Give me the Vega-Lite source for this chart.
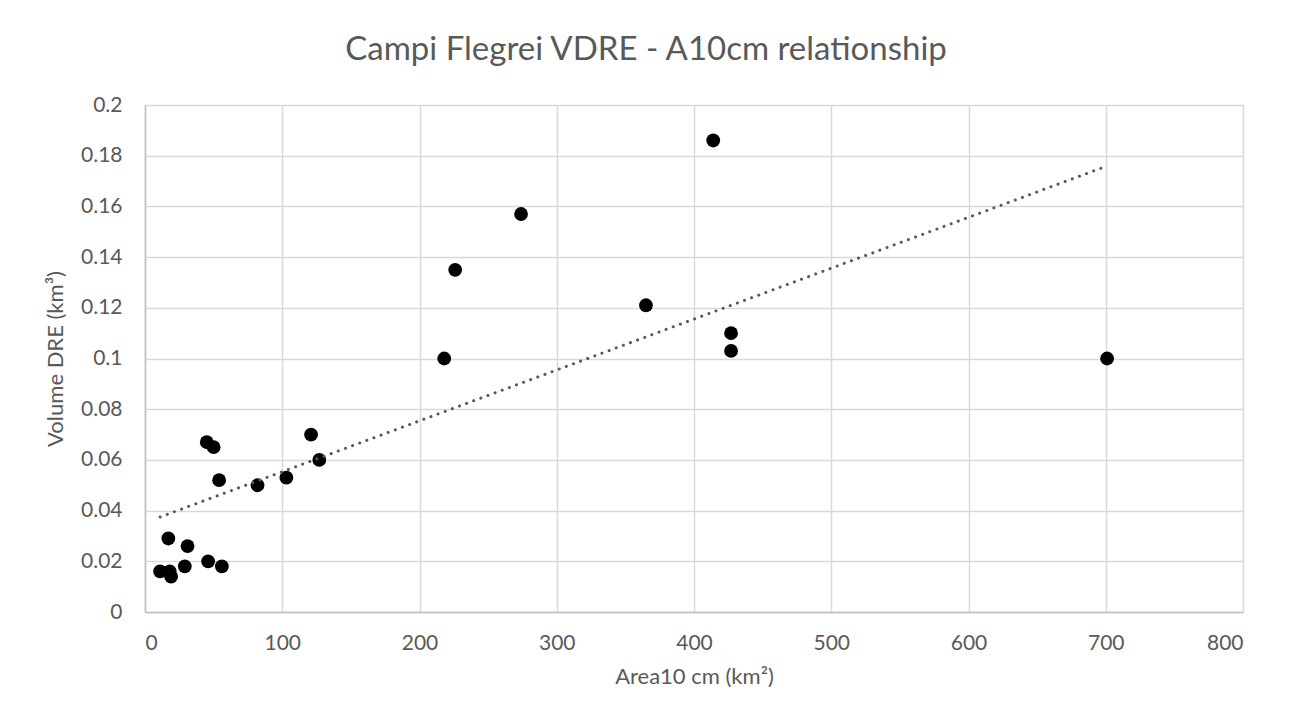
{
  "$schema": "https://vega.github.io/schema/vega-lite/v6.json",
  "width": 1098,
  "height": 507,
  "autosize": {"type": "none"},
  "padding": {"left": 145, "top": 105, "right": 49, "bottom": 114},
  "background": "white",
  "title": {
    "text": "Campi Flegrei VDRE - A10cm relationship",
    "font": "Lato",
    "fontSize": 33,
    "fontWeight": "normal",
    "color": "#595959",
    "anchor": "middle",
    "dx": -48,
    "offset": 27
  },
  "data": {
    "values": [
      {"area": 11, "volume": 0.016},
      {"area": 17, "volume": 0.029},
      {"area": 18, "volume": 0.016},
      {"area": 19, "volume": 0.014},
      {"area": 29, "volume": 0.018},
      {"area": 31, "volume": 0.026},
      {"area": 45, "volume": 0.067},
      {"area": 46, "volume": 0.020},
      {"area": 50, "volume": 0.065},
      {"area": 54, "volume": 0.052},
      {"area": 56, "volume": 0.018},
      {"area": 82, "volume": 0.050},
      {"area": 103, "volume": 0.053},
      {"area": 121, "volume": 0.070},
      {"area": 127, "volume": 0.060},
      {"area": 218, "volume": 0.100},
      {"area": 226, "volume": 0.135},
      {"area": 274, "volume": 0.157},
      {"area": 365, "volume": 0.121},
      {"area": 414, "volume": 0.186},
      {"area": 427, "volume": 0.110},
      {"area": 427, "volume": 0.103},
      {"area": 701, "volume": 0.100}
    ]
  },
  "encoding": {
    "x": {
      "field": "area",
      "type": "quantitative",
      "scale": {"domain": [0, 800], "nice": false, "zero": true},
      "axis": {
        "title": "Area10 cm (km²)",
        "values": [0, 100, 200, 300, 400, 500, 600, 700, 800],
        "labelPadding": 20,
        "titlePadding": 13
      }
    },
    "y": {
      "field": "volume",
      "type": "quantitative",
      "scale": {"domain": [0, 0.2], "nice": false},
      "axis": {
        "title": "Volume DRE (km³)",
        "values": [0, 0.02, 0.04, 0.06, 0.08, 0.1, 0.12, 0.14, 0.16, 0.18, 0.2],
        "format": ".2~f",
        "labelPadding": 23,
        "titlePadding": 13
      }
    }
  },
  "layer": [
    {
      "mark": {"type": "point", "filled": true, "color": "#000000", "size": 190, "opacity": 1}
    },
    {
      "transform": [{"regression": "volume", "on": "area"}],
      "mark": {
        "type": "line",
        "color": "#595959",
        "strokeWidth": 3,
        "strokeDash": [0.1, 7.5],
        "strokeCap": "round"
      }
    }
  ],
  "config": {
    "view": {"stroke": null},
    "font": "Lato",
    "axis": {
      "ticks": false,
      "domainColor": "#bfbfbf",
      "domainWidth": 1.5,
      "gridColor": "#d9d9d9",
      "gridWidth": 1.5,
      "labelFont": "Lato",
      "labelFontSize": 21,
      "labelColor": "#595959",
      "titleFont": "Lato",
      "titleFontSize": 22,
      "titleFontWeight": "normal",
      "titleColor": "#595959"
    }
  }
}
